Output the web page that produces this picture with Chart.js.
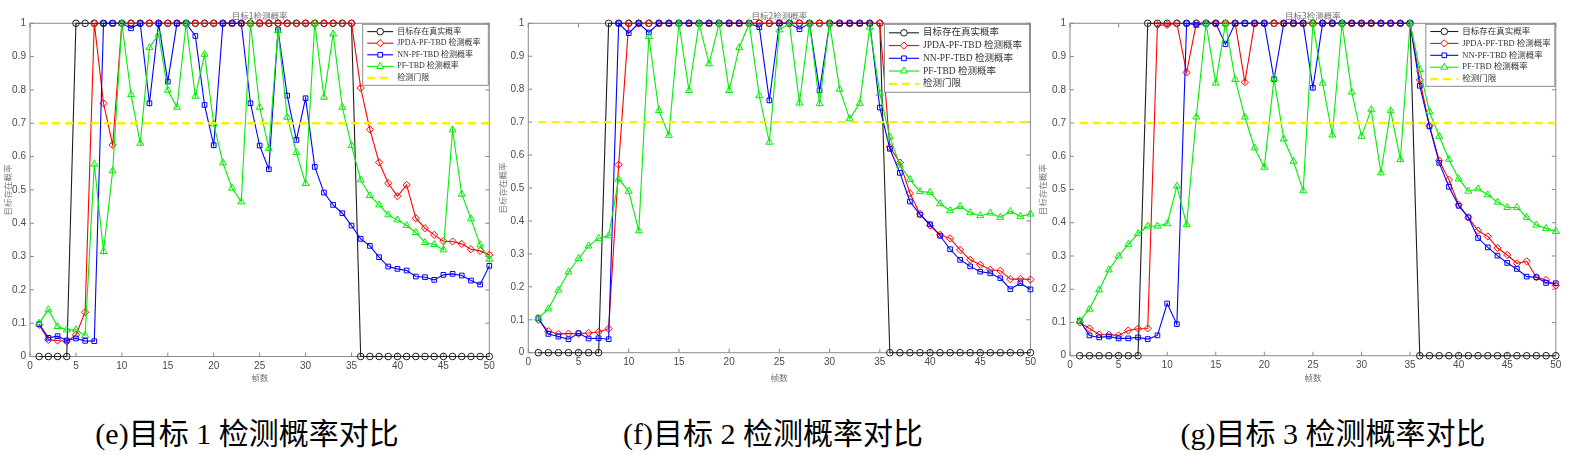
<!DOCTYPE html>
<html>
<head>
<meta charset="utf-8">
<script src="https://cdn.jsdelivr.net/npm/chart.js@4.4.0/dist/chart.umd.min.js"></script>
<style>
  body { margin: 0; width: 1581px; height: 466px; background: #fff; position: relative; overflow: hidden; }
  canvas { position: absolute; top: 0; }
  .caption {
    position: absolute; top: 419px; line-height: 30px; white-space: nowrap;
    font-size: 30px; font-family: "Liberation Serif", "Noto Sans CJK SC", serif; color: #000;
    transform: translateX(-50%);
  }
</style>
</head>
<body>
<canvas id="c1" width="500" height="395" style="left:0px"></canvas>
<canvas id="c2" width="545" height="395" style="left:495px"></canvas>
<canvas id="c3" width="545" height="395" style="left:1036px"></canvas>
<div class="caption" style="left:247px">(e)目标 1 检测概率对比</div>
<div class="caption" style="left:773px">(f)目标 2 检测概率对比</div>
<div class="caption" style="left:1333px">(g)目标 3 检测概率对比</div>
<script>
// 帧数 1..50
const frames = [1,2,3,4,5,6,7,8,9,10,11,12,13,14,15,16,17,18,19,20,21,22,23,24,25,
  26,27,28,29,30,31,32,33,34,35,36,37,38,39,40,41,42,43,44,45,46,47,48,49,50];
const xTicks = [0,5,10,15,20,25,30,35,40,45,50];
const yTicks = [0,0.1,0.2,0.3,0.4,0.5,0.6,0.7,0.8,0.9,1];
const THRESHOLD = 0.7;
const seriesNames = ['目标存在真实概率', 'JPDA-PF-TBD 检测概率', 'NN-PF-TBD 检测概率', 'PF-TBD 检测概率', '检测门限'];

// 目标 1
const truth1 = [0,0,0,0,1,1,1,1,1,1,1,1,1,1,1,1,1,1,1,1,1,1,1,1,1,1,1,1,1,1,1,1,1,1,1,
  0,0,0,0,0,0,0,0,0,0,0,0,0,0,0];
const jpda1 = [0.095,0.05,0.048,0.045,0.065,0.133,1,0.76,0.635,1,1,1,1,1,1,1,1,1,1,1,1,1,1,1,1,
  1,1,1,1,1,1,1,1,1,1,0.806,0.681,0.583,0.52,0.481,0.515,0.415,0.385,0.365,0.346,0.345,0.338,0.322,0.317,0.305];
const nn1 = [0.097,0.056,0.061,0.048,0.054,0.047,0.046,1,1,1,0.985,1,0.76,1,0.825,1,1,0.962,0.755,0.634,1,1,1,0.76,0.633,
  0.562,0.98,0.783,0.65,0.775,0.569,0.492,0.455,0.43,0.393,0.353,0.332,0.298,0.27,0.263,0.258,0.24,0.238,0.23,0.245,0.248,0.243,0.228,0.216,0.272];
const pf1 = [0.1,0.14,0.09,0.08,0.08,0.063,0.577,0.315,0.557,1,0.786,0.64,0.927,0.967,0.799,0.748,1,0.781,0.907,0.698,0.581,0.505,0.464,1,0.748,
  0.624,0.978,0.718,0.612,0.519,1,0.778,0.968,0.748,0.633,0.53,0.483,0.455,0.425,0.41,0.393,0.372,0.342,0.336,0.32,0.68,0.487,0.413,0.335,0.292];

// 目标 2
const truth2 = [0,0,0,0,0,0,0,1,1,1,1,1,1,1,1,1,1,1,1,1,1,1,1,1,1,1,1,1,1,1,1,1,1,1,1,
  0,0,0,0,0,0,0,0,0,0,0,0,0,0,0];
const jpda2 = [0.1,0.065,0.057,0.058,0.058,0.06,0.063,0.073,0.571,1,1,1,1,1,1,1,1,1,1,1,1,1,1,1,1,
  1,1,1,1,1,1,1,1,1,1,0.624,0.577,0.484,0.421,0.386,0.358,0.347,0.312,0.282,0.267,0.252,0.249,0.223,0.224,0.222];
const nn2 = [0.105,0.057,0.049,0.041,0.059,0.043,0.044,0.041,1,0.97,1,0.972,1,1,1,1,1,1,1,1,1,1,0.988,0.766,1,
  1,0.982,1,0.796,1,1,1,1,1,0.744,0.619,0.546,0.459,0.419,0.39,0.355,0.314,0.282,0.262,0.246,0.241,0.226,0.193,0.211,0.192];
const pf2 = [0.105,0.133,0.19,0.245,0.286,0.324,0.347,0.355,0.527,0.49,0.37,0.96,0.735,0.66,1,0.796,1,0.877,1,0.796,0.926,1,0.78,0.639,0.98,
  1,0.758,1,0.756,1,0.8,0.71,0.757,0.988,0.787,0.655,0.569,0.526,0.489,0.487,0.452,0.431,0.444,0.425,0.416,0.424,0.411,0.429,0.414,0.421];

// 目标 3
const truth3 = [0,0,0,0,0,0,0,1,1,1,1,1,1,1,1,1,1,1,1,1,1,1,1,1,1,1,1,1,1,1,1,1,1,1,1,
  0,0,0,0,0,0,0,0,0,0,0,0,0,0,0];
const jpda3 = [0.1,0.082,0.064,0.063,0.061,0.076,0.081,0.082,0.995,0.995,1,0.852,1,1,1,1,1,0.823,1,1,1,1,1,1,1,
  1,1,1,1,1,1,1,1,1,1,0.83,0.692,0.587,0.529,0.454,0.416,0.376,0.359,0.324,0.303,0.278,0.284,0.236,0.228,0.211];
const nn3 = [0.105,0.061,0.055,0.058,0.052,0.052,0.055,0.05,0.061,0.157,0.095,1,0.995,1,1,0.937,1,1,1,1,0.832,1,1,1,0.806,
  1,1,1,1,1,1,1,1,1,1,0.812,0.69,0.58,0.508,0.451,0.416,0.354,0.326,0.301,0.279,0.261,0.238,0.236,0.219,0.218];
const pf3 = [0.105,0.14,0.198,0.258,0.3,0.335,0.367,0.39,0.39,0.397,0.51,0.394,0.718,1,0.82,1,0.831,0.718,0.625,0.567,0.834,0.652,0.585,0.496,1,
  0.82,0.664,1,0.793,0.66,0.74,0.55,0.737,0.59,1,0.861,0.734,0.66,0.591,0.532,0.495,0.502,0.484,0.462,0.446,0.446,0.416,0.393,0.383,0.374];

const AXIS_GRAY = '#8a8a8a';
const TEXT_GRAY = '#4a4a4a';
const CJK = '"Noto Sans CJK SC", sans-serif';
const SERIF = '"Liberation Serif", "Noto Sans CJK SC", serif';

// 把数组变成 {x, y} 点
const toPoints = (values) => values.map((v, i) => ({ x: frames[i], y: v }));

// 方框 + 向内刻度 + 顶部小标题
const boxTicksPlugin = {
  id: 'boxTicks',
  beforeDatasetsDraw(chart, args, opts) {
    const { ctx, chartArea: a, scales: { x, y } } = chart;
    ctx.save();
    ctx.strokeStyle = AXIS_GRAY;
    ctx.lineWidth = 1;
    ctx.strokeRect(a.left, a.top, a.right - a.left, a.bottom - a.top);
    ctx.beginPath();
    xTicks.forEach(v => {
      const px = x.getPixelForValue(v);
      ctx.moveTo(px, a.bottom); ctx.lineTo(px, a.bottom - 4);
      ctx.moveTo(px, a.top); ctx.lineTo(px, a.top + 4);
    });
    yTicks.forEach(v => {
      const py = y.getPixelForValue(v);
      ctx.moveTo(a.left, py); ctx.lineTo(a.left + 4, py);
      ctx.moveTo(a.right, py); ctx.lineTo(a.right - 4, py);
    });
    ctx.stroke();
    if (opts.title) {
      ctx.fillStyle = '#707070';
      ctx.font = '8.5px ' + CJK;
      ctx.textAlign = 'center';
      ctx.textBaseline = 'middle';
      ctx.fillText(opts.title, (a.left + a.right) / 2, 16);
    }
    ctx.restore();
  }
};

// MATLAB 风格的图例(右上角方框)
const boxLegendPlugin = {
  id: 'boxLegend',
  afterDatasetsDraw(chart, args, opts) {
    const { ctx, chartArea: a } = chart;
    const right = a.right - 1, top = a.top + 1;
    const left = right - opts.w;
    ctx.save();
    ctx.fillStyle = '#fff';
    ctx.fillRect(left, top, opts.w, opts.h);
    ctx.strokeStyle = AXIS_GRAY;
    ctx.lineWidth = 1;
    ctx.strokeRect(left, top, opts.w, opts.h);
    const firstRow = top + (opts.h - 4 * opts.rowH) / 2;
    chart.data.datasets.forEach((ds, i) => {
      const yRow = firstRow + i * opts.rowH;
      const x0 = left + 4.5, x1 = x0 + opts.sampleW;
      ctx.strokeStyle = ds.borderColor;
      ctx.lineWidth = ds.borderWidth;
      ctx.setLineDash(ds.borderDash || []);
      ctx.beginPath(); ctx.moveTo(x0, yRow); ctx.lineTo(x1, yRow); ctx.stroke();
      ctx.setLineDash([]);
      if (ds.pointRadius > 0) {
        ctx.fillStyle = '#fff';
        ctx.lineWidth = 1;
        Chart.helpers.drawPoint(ctx, { pointStyle: ds.pointStyle, radius: ds.pointRadius, rotation: 0, borderWidth: 1 }, (x0 + x1) / 2, yRow);
      }
      ctx.fillStyle = '#333';
      ctx.font = opts.font + 'px ' + SERIF;
      ctx.textAlign = 'left';
      ctx.textBaseline = 'middle';
      ctx.fillText(ds.label, x1 + 4, yRow);
    });
    ctx.restore();
  }
};

function makeDatasets(truth, jpda, nn, pf) {
  const common = { borderWidth: 1.1, tension: 0, clip: false, pointBorderWidth: 1, pointBackgroundColor: 'rgba(0,0,0,0)' };
  return [
    { ...common, label: seriesNames[0], data: toPoints(truth), borderColor: '#1e1e1e', pointBorderColor: '#1e1e1e', pointStyle: 'circle', pointRadius: 3.3, order: 5 },
    { ...common, label: seriesNames[1], data: toPoints(jpda), borderColor: '#ff0000', pointBorderColor: '#ff0000', pointStyle: 'rectRot', pointRadius: 3.6, order: 4 },
    { ...common, label: seriesNames[2], data: toPoints(nn), borderColor: '#0000ff', pointBorderColor: '#0000ff', pointStyle: 'rect', pointRadius: 3.3, order: 3 },
    { ...common, label: seriesNames[3], data: toPoints(pf), borderColor: '#00ee00', pointBorderColor: '#00ee00', pointStyle: 'triangle', pointRadius: 4, order: 2 },
    { label: seriesNames[4], data: toPoints(frames.map(() => THRESHOLD)), borderColor: '#ffee00', borderWidth: 2.3,
      borderDash: [8, 5], pointRadius: 0, tension: 0, clip: false, order: 1 }
  ];
}

function makePanel(cfg) {
  const canvas = document.getElementById(cfg.id);
  const cw = canvas.width, ch = canvas.height;
  return new Chart(canvas.getContext('2d'), {
    type: 'line',
    data: { datasets: makeDatasets(cfg.truth, cfg.jpda, cfg.nn, cfg.pf) },
    options: {
      responsive: false,
      animation: false,
      events: [],
      layout: { padding: { left: 0, top: cfg.plotTop, right: cw - (cfg.plotRight - cfg.left), bottom: 0 } },
      plugins: {
        legend: { display: false },
        tooltip: { enabled: false },
        boxTicks: { title: cfg.title },
        boxLegend: cfg.legend
      },
      scales: {
        x: {
          type: 'linear', min: 0, max: 50,
          afterFit: (s) => { s.height = ch - cfg.plotBottom; },
          afterBuildTicks: (s) => { s.ticks = xTicks.map(v => ({ value: v })); },
          grid: { display: false, drawTicks: false },
          border: { display: false },
          ticks: { padding: 4, color: TEXT_GRAY, font: { family: '"Liberation Sans", Arial, sans-serif', size: 10 }, maxRotation: 0 },
          title: { display: true, text: '帧数', color: '#707070', font: { family: CJK, size: 8.5 }, padding: { bottom: 12 } }
        },
        y: {
          type: 'linear', min: 0, max: 1,
          afterFit: (s) => { s.width = cfg.plotLeft - cfg.left; },
          afterBuildTicks: (s) => { s.ticks = yTicks.map(v => ({ value: v })); },
          grid: { display: false, drawTicks: false },
          border: { display: false },
          ticks: {
            padding: 4, color: TEXT_GRAY, font: { family: '"Liberation Sans", Arial, sans-serif', size: 10 },
            callback: (v) => (v === 0 || v === 1) ? String(v) : v.toFixed(1)
          },
          title: { display: true, text: '目标存在概率', color: '#808080', font: { family: CJK, size: 8.5 }, padding: { top: cfg.yTitlePad } }
        }
      }
    },
    plugins: [boxTicksPlugin, boxLegendPlugin]
  });
}

makePanel({ id: 'c1', left: 0, plotLeft: 30, plotRight: 489.3, plotTop: 23.3, plotBottom: 356.5, yTitlePad: 2.2,
  title: '目标1检测概率', truth: truth1, jpda: jpda1, nn: nn1, pf: pf1,
  legend: { w: 125.6, h: 61, rowH: 11.6, sampleW: 26, font: 8 } });
makePanel({ id: 'c2', left: 495, plotLeft: 528.3, plotRight: 1032.5, plotTop: 23.3, plotBottom: 352.7, yTitlePad: 2.6,
  title: '目标2检测概率', truth: truth2, jpda: jpda2, nn: nn2, pf: pf2,
  legend: { w: 145, h: 68, rowH: 12.75, sampleW: 30, font: 9.5 } });
makePanel({ id: 'c3', left: 1036, plotLeft: 1070, plotRight: 1555.8, plotTop: 23.3, plotBottom: 355.7, yTitlePad: 1.9,
  title: '目标3检测概率', truth: truth3, jpda: jpda3, nn: nn3, pf: pf3,
  legend: { w: 129, h: 62, rowH: 11.9, sampleW: 28, font: 8.5 } });
</script>
</body>
</html>
